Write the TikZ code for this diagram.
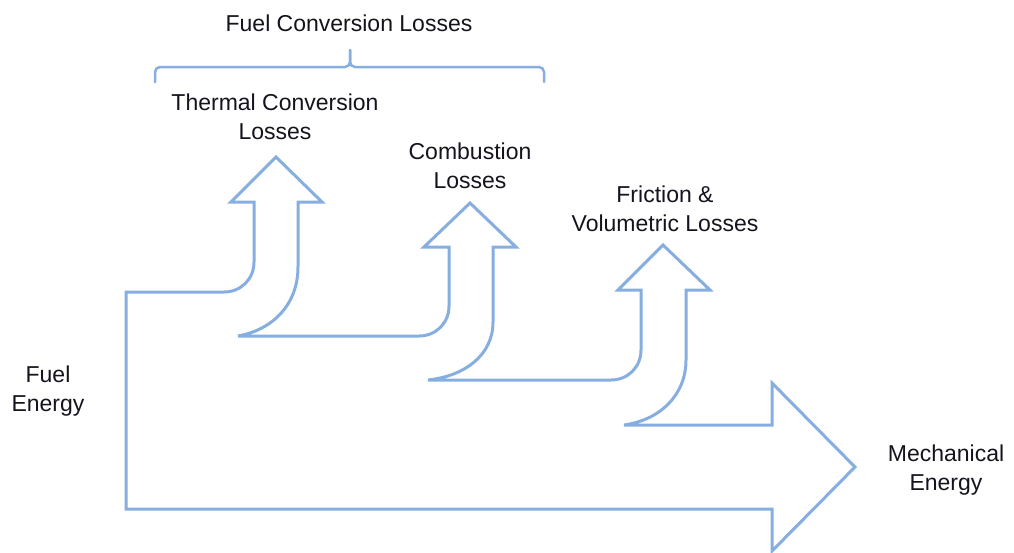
\documentclass[tikz,border=0pt]{standalone}
\usepackage{fontspec}
\setmainfont{Liberation Sans}
\definecolor{flowblue}{RGB}{135,174,224}
\definecolor{txt}{RGB}{20,20,30}
\begin{document}
\begin{tikzpicture}[x=1pt,y=-1pt,
  flow/.style={draw=flowblue,line width=3pt,line join=miter},
  lbl/.style={text=txt,font=\fontsize{23}{28.5}\selectfont,align=center,inner sep=0pt}]
\useasboundingbox (0,0) rectangle (1014,552);
\fill[white] (0,0) rectangle (1014,552);
% Sankey-like outline
\draw[flow] (126,292) -- (224,292) .. controls (241,292) and (254,279) .. (254,262)
 -- (254,202) -- (231,202) -- (276,157) -- (322,202) -- (298,202)
 -- (298,267) .. controls (298,305) and (272,330) .. (238,336)
 -- (419,336) .. controls (436,336) and (449,323) .. (449,306)
 -- (449,247) -- (424,247) -- (470,203) -- (516,247) -- (493,247)
 -- (493,322) .. controls (493,355) and (465,376) .. (428,380)
 -- (611,380) .. controls (628,380) and (641,367) .. (641,350)
 -- (641,290) -- (618,290) -- (663,245) -- (710,290) -- (686,290)
 -- (686,360) .. controls (686,395) and (660,420) .. (624,425)
 -- (772,425) -- (772,383) -- (855,467) -- (772,551) -- (772,509)
 -- (126,509) -- cycle;
% bracket
\draw[flowblue,line width=2.5pt,line cap=round,rounded corners=5pt]
 (155,82) -- (155,67) -- (350,67) -- (350,50);
\draw[flowblue,line width=2.5pt,line cap=round,rounded corners=5pt]
 (350,50) -- (350,67) -- (544,67) -- (544,82);
% labels
\node[lbl] (fcl) at (349,23) {Fuel Conversion Losses};
\node[lbl] (tcl) at (275,117) {Thermal Conversion\\Losses};
\node[lbl] (cl) at (470,166) {Combustion\\Losses};
\node[lbl] (fvl) at (665,209) {Friction \&\\Volumetric Losses};
\node[lbl] (fe) at (48,391) {Fuel\\Energy};
\node[lbl] (me) at (946,470) {Mechanical\\Energy};
\end{tikzpicture}
\end{document}
